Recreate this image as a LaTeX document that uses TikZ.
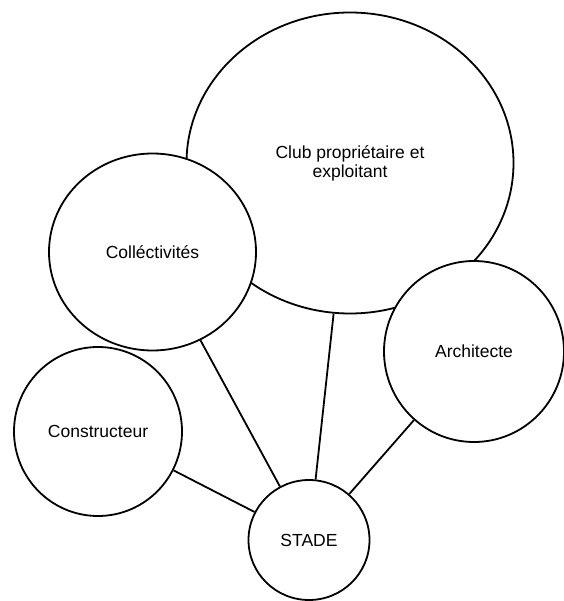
\documentclass[tikz,border=0pt]{standalone}
\usepackage{fontspec}
\setmainfont{Liberation Sans}
\usetikzlibrary{shapes.geometric}

\begin{document}
\begin{tikzpicture}[
  x=1pt,y=-1pt,
  bubble/.style={ellipse,draw,fill=white,line width=1.8pt,inner sep=0pt,align=center,font=\fontsize{17.5}{19}\selectfont},
  link/.style={line width=1.8pt}
]
\useasboundingbox (0,0) rectangle (563,601);

% Club
\node[bubble,minimum width=327,minimum height=301] (club) at (350,163) {Club propriétaire et\\exploitant};

% Partners
\node[bubble,minimum width=207,minimum height=197] (coll) at (152.5,252) {Colléctivités};
\node[bubble,minimum width=180,minimum height=181] (archi) at (474,351.5) {Architecte};
\node[bubble,minimum width=168,minimum height=169] (constr) at (98,431.5) {Constructeur};

% Stade
\node[bubble,minimum width=121,minimum height=120] (stade) at (309,540) {STADE};

% Links
\draw[link] (club) -- (stade);
\draw[link] (coll) -- (stade);
\draw[link] (archi) -- (stade);
\draw[link] (constr) -- (stade);

\end{tikzpicture}
\end{document}
